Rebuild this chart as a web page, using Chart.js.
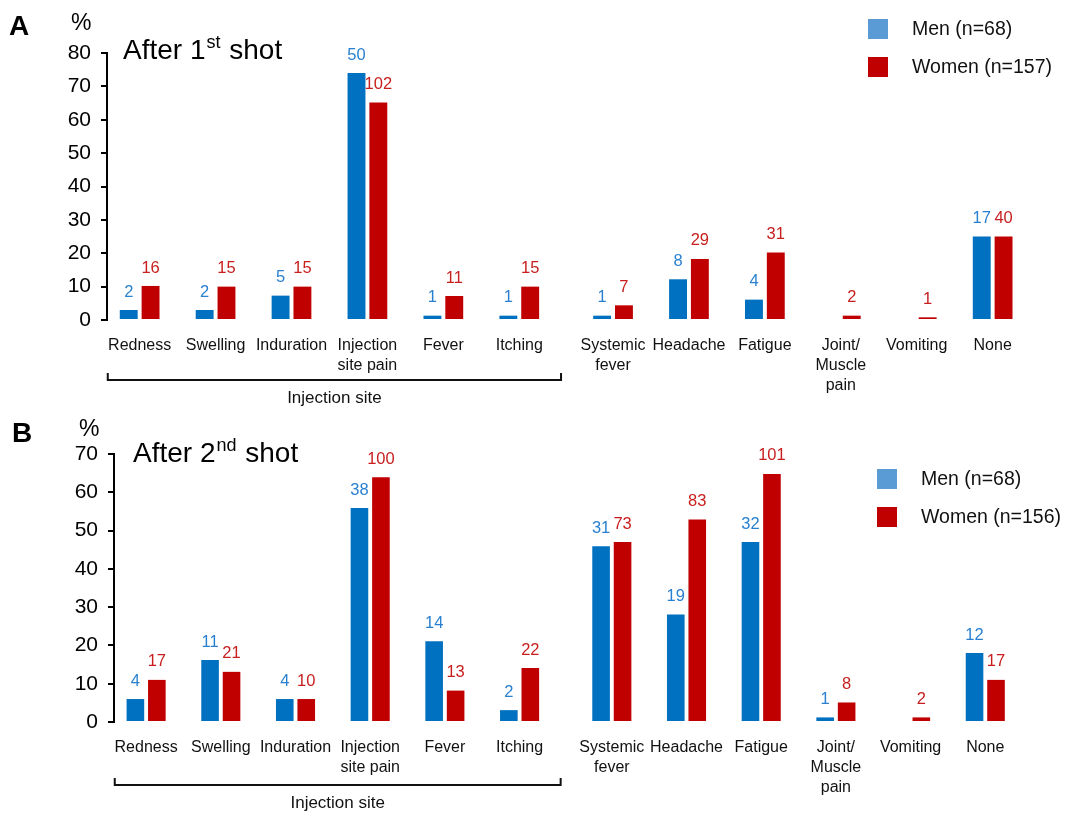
<!DOCTYPE html>
<html>
<head>
<meta charset="utf-8">
<script src="https://cdn.jsdelivr.net/npm/chart.js@4/dist/chart.umd.min.js"></script>
<style>
  body { margin: 0; background: #fff; }
  .panel { position: absolute; left: 0; width: 1066px; height: 409px; }
</style>
</head>
<body>
<div class="panel" style="top:0"><canvas id="chartA" width="1066" height="409"></canvas></div>
<div class="panel" style="top:409px"><canvas id="chartB" width="1066" height="409"></canvas></div>
<script>
// categories (first six belong to "Injection site")
const categories = [
  'Redness', 'Swelling', 'Induration', ['Injection', 'site pain'], 'Fever', 'Itching',
  ['Systemic', 'fever'], 'Headache', 'Fatigue', ['Joint/', 'Muscle', 'pain'], 'Vomiting', 'None'
];
const injectionSiteCount = 6;

// After 1st shot: percentages and counts
const menPctA = [3, 3, 7.3, 74, 1.3, 1.3, 1.3, 12.2, 6.1, 0, 0, 25];
const womenPctA = [10.2, 10, 10, 65.2, 7.2, 10, 4.4, 18.3, 20.2, 1.3, 0.8, 25];
const menCountA = [2, 2, 5, 50, 1, 1, 1, 8, 4, 0, 0, 17];
const womenCountA = [16, 15, 15, 102, 11, 15, 7, 29, 31, 2, 1, 40];

// After 2nd shot: percentages and counts
const menPctB = [6, 16.2, 6, 55.9, 21.1, 3.1, 45.9, 28.1, 47, 1.2, 0, 18];
const womenPctB = [11, 13.1, 6, 63.9, 8.2, 14.1, 47, 52.9, 64.8, 5.1, 1.2, 11];
const menCountB = [4, 11, 4, 38, 14, 2, 31, 19, 32, 1, 0, 12];
const womenCountB = [17, 21, 10, 100, 13, 22, 73, 83, 101, 8, 2, 17];

const yTicksA = [0, 10, 20, 30, 40, 50, 60, 70, 80];
const yTicksB = [0, 10, 20, 30, 40, 50, 60, 70];

const MEN_BAR = '#0070c0', WOMEN_BAR = '#c00000';
const MEN_TEXT = '#2a80d0', WOMEN_TEXT = '#c81e1e';
const MEN_KEY = '#5b9bd5';
const FONT = '"Liberation Sans", Arial, Helvetica, sans-serif';
const GAP = 0.235;

// x position of each category on a linear axis, with a gap after the injection-site group
const xPos = categories.map((c, i) => i + (i >= injectionSiteCount ? GAP : 0));

function makePanel(id, cfg) {
  const overlay = {
    id: 'overlay',
    afterDatasetsDraw(chart) {
      const ctx = chart.ctx;
      const xs = chart.scales.x;
      ctx.save();
      // count labels above bars
      ctx.font = '16.5px ' + FONT;
      ctx.textAlign = 'center';
      ctx.textBaseline = 'middle';
      chart.data.datasets.forEach((ds, di) => {
        const meta = chart.getDatasetMeta(di);
        meta.data.forEach((bar, i) => {
          const n = ds.counts[i];
          if (!n) return;
          ctx.fillStyle = ds.textColor;
          ctx.fillText(String(n), bar.x, bar.y - 18);
        });
      });
      // panel letter, unit, title
      ctx.textAlign = 'left';
      ctx.textBaseline = 'alphabetic';
      ctx.fillStyle = '#000';
      ctx.font = 'bold 28px ' + FONT;
      ctx.fillText(cfg.letter, cfg.letterX, cfg.letterY);
      ctx.font = '23px ' + FONT;
      ctx.fillText('%', cfg.pctX, cfg.pctY);
      ctx.font = '28px ' + FONT;
      let tx = cfg.titleX;
      ctx.fillText(cfg.title[0], tx, cfg.titleY);
      tx += ctx.measureText(cfg.title[0]).width + 1;
      ctx.font = '18px ' + FONT;
      ctx.fillText(cfg.title[1], tx, cfg.titleY - 11);
      tx += ctx.measureText(cfg.title[1]).width + 1;
      ctx.font = '28px ' + FONT;
      ctx.fillText(cfg.title[2], tx, cfg.titleY);
      // legend
      ctx.font = '19.5px ' + FONT;
      ctx.textBaseline = 'middle';
      cfg.legend.forEach((item, k) => {
        const y = cfg.legendY + k * 38;
        ctx.fillStyle = item.color;
        ctx.fillRect(cfg.legendX, y - 10, 20, 20);
        ctx.fillStyle = '#111';
        ctx.fillText(item.text, cfg.legendX + 44, y + 1);
      });
      // injection site bracket
      const unit = xs.getPixelForValue(1) - xs.getPixelForValue(0);
      const xl = xs.getPixelForValue(xPos[0]) - 0.42 * unit;
      const xr = xs.getPixelForValue(xPos[injectionSiteCount - 1]) + 0.55 * unit;
      ctx.strokeStyle = '#111';
      ctx.lineWidth = 2;
      ctx.beginPath();
      ctx.moveTo(xl, cfg.bracketY - 7);
      ctx.lineTo(xl, cfg.bracketY);
      ctx.lineTo(xr, cfg.bracketY);
      ctx.lineTo(xr, cfg.bracketY - 7);
      ctx.stroke();
      ctx.fillStyle = '#111';
      ctx.textAlign = 'center';
      ctx.font = '17px ' + FONT;
      ctx.fillText('Injection site', (xl + xr) / 2, cfg.bracketY + 18);
      ctx.restore();
    }
  };

  return new Chart(document.getElementById(id).getContext('2d'), {
    type: 'bar',
    data: {
      datasets: [
        {
          label: cfg.legend[0].text,
          data: xPos.map((x, i) => ({ x: x, y: cfg.men[i] })),
          counts: cfg.menCount,
          textColor: MEN_TEXT,
          backgroundColor: MEN_BAR,
        },
        {
          label: cfg.legend[1].text,
          data: xPos.map((x, i) => ({ x: x, y: cfg.women[i] })),
          counts: cfg.womenCount,
          textColor: WOMEN_TEXT,
          backgroundColor: WOMEN_BAR,
        },
      ],
    },
    options: {
      responsive: false,
      animation: false,
      categoryPercentage: 0.575,
      barPercentage: 0.82,
      layout: { padding: { top: cfg.padTop, right: cfg.padRight, left: 0, bottom: 0 } },
      scales: {
        x: {
          type: 'linear',
          offset: false,
          min: -0.43,
          max: 11.74,
          grid: { display: false, drawTicks: false },
          border: { display: false },
          afterBuildTicks(scale) {
            scale.ticks = xPos.map((v) => ({ value: v }));
          },
          afterFit(scale) {
            scale.height = cfg.xHeight;
          },
          ticks: {
            autoSkip: false,
            maxRotation: 0,
            padding: 15,
            color: '#111',
            font: { family: FONT, size: 16, lineHeight: 1.27 },
            callback: (v, i) => categories[i],
          },
        },
        y: {
          min: 0,
          max: cfg.yTicks[cfg.yTicks.length - 1],
          afterBuildTicks(scale) {
            scale.ticks = cfg.yTicks.map((v) => ({ value: v }));
          },
          afterFit(scale) {
            scale.width = cfg.yWidth;
          },
          grid: { drawOnChartArea: false, drawTicks: true, tickLength: 6, color: '#000', lineWidth: 2 },
          border: { display: true, color: '#000', width: 2 },
          ticks: {
            padding: 10,
            color: '#000',
            font: { family: FONT, size: 21 },
          },
        },
      },
      plugins: {
        legend: { display: false },
        tooltip: { enabled: false },
      },
    },
    plugins: [overlay],
  });
}

makePanel('chartA', {
  men: menPctA, women: womenPctA, menCount: menCountA, womenCount: womenCountA,
  yTicks: yTicksA, yWidth: 107, padTop: 53, padRight: 35, xHeight: 89,
  letter: 'A', letterX: 9, letterY: 35, pctX: 71, pctY: 30,
  title: ['After 1', 'st', ' shot'], titleX: 123, titleY: 59,
  legend: [{ text: 'Men (n=68)', color: MEN_KEY }, { text: 'Women (n=157)', color: WOMEN_BAR }],
  legendX: 868, legendY: 29, bracketY: 380,
});

makePanel('chartB', {
  men: menPctB, women: womenPctB, menCount: menCountB, womenCount: womenCountB,
  yTicks: yTicksB, yWidth: 114, padTop: 45, padRight: 43, xHeight: 96,
  letter: 'B', letterX: 12, letterY: 33, pctX: 79, pctY: 27,
  title: ['After 2', 'nd', ' shot'], titleX: 133, titleY: 53,
  legend: [{ text: 'Men (n=68)', color: MEN_KEY }, { text: 'Women (n=156)', color: WOMEN_BAR }],
  legendX: 877, legendY: 70, bracketY: 376,
});
</script>
</body>
</html>
